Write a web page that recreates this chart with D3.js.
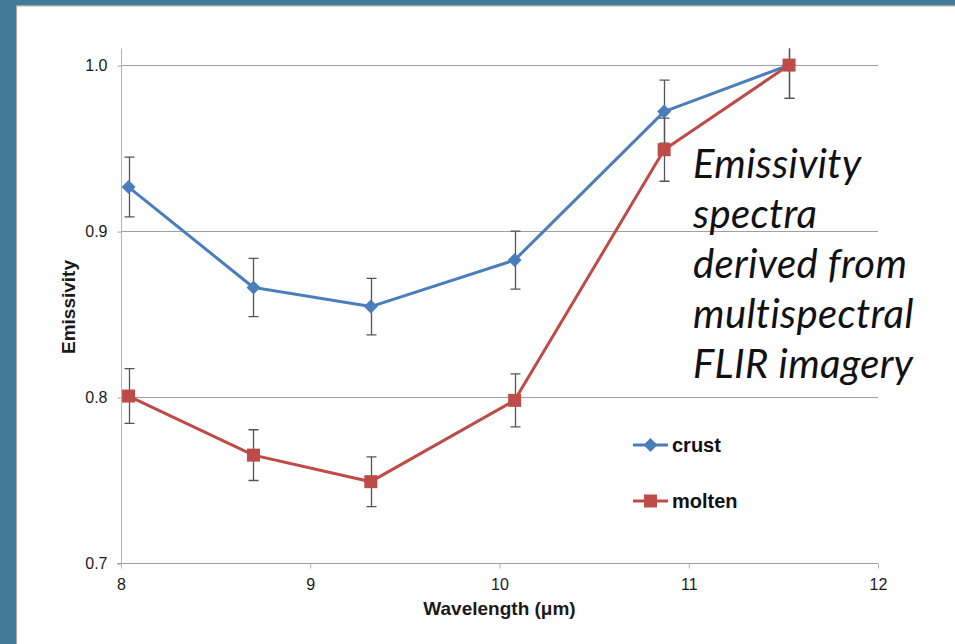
<!DOCTYPE html>
<html>
<head>
<meta charset="utf-8">
<script src="https://cdn.jsdelivr.net/npm/d3@7"></script>
<style>
body { margin: 0; background: #fff; }
svg { display: block; }
</style>
</head>
<body>
<svg class="main" width="955" height="644"></svg>
<script>
var wavelength = [8.04, 8.70, 9.32, 10.08, 10.87, 11.53],
    crust = [0.9265, 0.866, 0.8545, 0.8825, 0.972, 1.0],
    crustErr = [0.018, 0.0175, 0.017, 0.0175, 0.019, 0.02],
    molten = [0.8006, 0.765, 0.749, 0.798, 0.949, 1.0],
    moltenErr = [0.0165, 0.0153, 0.015, 0.016, 0.019, 0.02],
    xTicks = [8, 9, 10, 11, 12],
    yTicks = [0.7, 0.8, 0.9, 1.0],
    seriesNames = ["crust", "molten"],
    noteLines = ["Emissivity", "spectra", "derived from", "multispectral", "FLIR imagery"];

var svg = d3.select(".main");

var layout = {
    left: 121,
    right: 878,
    top: 48.5,
    bottom: 563
};

var sans = "Arial, 'Liberation Sans', sans-serif";

// slide frame
svg.append("rect").attr("width", 955).attr("height", 644).attr("fill", "#417b98");
svg.append("rect").attr("x", 16).attr("y", 5).attr("width", 939).attr("height", 639).attr("fill", "#a6a6a6");
svg.append("rect").attr("x", 17).attr("y", 6.5).attr("width", 938).attr("height", 638).attr("fill", "#fff");

var x = d3.scaleLinear().domain([8, 12]).range([layout.left, layout.right]);
var y = d3.scaleLinear().domain([0.7, 1.01]).range([layout.bottom, layout.top]);

var plot = svg.append("g");

// gridlines
plot.selectAll(".grid")
    .data(yTicks.slice(1))
    .enter()
    .append("line")
    .attr("x1", layout.left)
    .attr("x2", layout.right)
    .attr("y1", function(d) { return Math.round(y(d)) + 0.5; })
    .attr("y2", function(d) { return Math.round(y(d)) + 0.5; })
    .attr("stroke", "#a0a0a0")
    .attr("stroke-width", 1);

// y axis
var yAxis = d3.axisLeft(y).tickValues(yTicks).tickFormat(d3.format(".1f")).tickSize(4).tickPadding(10);
plot.append("g")
    .attr("transform", "translate(" + (layout.left + 0.5) + ",0)")
    .call(yAxis)
    .call(function(g) {
        g.select(".domain").attr("stroke", "#b4b4b4").attr("d", "M0," + layout.top + "V" + (layout.bottom + 0.5));
        g.selectAll(".tick line").attr("stroke", "#a0a0a0").attr("transform", "translate(0,0.5)");
        g.selectAll(".tick text").attr("font-family", sans).attr("font-size", 16).attr("fill", "#1a1a1a");
    });

// x axis
var xAxis = d3.axisBottom(x).tickValues(xTicks).tickFormat(d3.format("d")).tickSize(5).tickPadding(10);
plot.append("g")
    .attr("transform", "translate(0," + (Math.round(layout.bottom) + 0.5) + ")")
    .call(xAxis)
    .call(function(g) {
        g.select(".domain").attr("stroke", "#a0a0a0").attr("d", "M" + (layout.left - 4) + ",0H" + layout.right);
        g.selectAll(".tick line").attr("stroke", "#b4b4b4");
        g.selectAll(".tick text").attr("font-family", sans).attr("font-size", 16).attr("fill", "#1a1a1a");
    });

// axis titles
svg.append("text")
    .attr("x", (layout.left + layout.right) / 2)
    .attr("y", 615)
    .attr("text-anchor", "middle")
    .attr("font-family", sans)
    .attr("font-weight", "bold")
    .attr("font-size", 19)
    .attr("fill", "#1a1a1a")
    .text("Wavelength (μm)");

svg.append("text")
    .attr("transform", "translate(75,307) rotate(-90)")
    .attr("text-anchor", "middle")
    .attr("font-family", sans)
    .attr("font-weight", "bold")
    .attr("font-size", 19)
    .attr("fill", "#1a1a1a")
    .text("Emissivity");

var series = [
    { name: seriesNames[0], values: crust, err: crustErr, color: "#4a7ebb", marker: "diamond" },
    { name: seriesNames[1], values: molten, err: moltenErr, color: "#be4b48", marker: "square" }
];

svg.append("clipPath").attr("id", "plotClip")
    .append("rect")
    .attr("x", layout.left - 20)
    .attr("y", layout.top)
    .attr("width", layout.right - layout.left + 40)
    .attr("height", layout.bottom - layout.top);

var line = d3.line()
    .x(function(d) { return x(d.x); })
    .y(function(d) { return y(d.y); });

function marker(sel, type, color, cx, cy) {
    if (type === "diamond") {
        sel.append("path")
            .attr("d", "M" + cx + "," + (cy - 7) + "L" + (cx + 7) + "," + cy + "L" + cx + "," + (cy + 7) + "L" + (cx - 7) + "," + cy + "Z")
            .attr("fill", color);
    } else {
        sel.append("rect")
            .attr("x", cx - 6.5)
            .attr("y", cy - 6.5)
            .attr("width", 13)
            .attr("height", 13)
            .attr("fill", color);
    }
}

series.forEach(function(s) {
    var pts = wavelength.map(function(w, i) {
        return { x: w, y: s.values[i], e: s.err[i] };
    });

    var g = plot.append("g");

    // error bars
    var eb = g.append("g").attr("clip-path", "url(#plotClip)");
    pts.forEach(function(p) {
        var px = Math.round(x(p.x)) + 0.5,
            y0 = y(p.y - p.e),
            y1 = y(p.y + p.e);
        eb.append("path")
            .attr("d", "M" + px + "," + y0 + "V" + y1 +
                "M" + (px - 5) + "," + y0 + "H" + (px + 5) +
                "M" + (px - 5) + "," + y1 + "H" + (px + 5))
            .attr("stroke", "#555")
            .attr("stroke-width", 1.3)
            .attr("fill", "none");
    });

    g.append("path")
        .datum(pts)
        .attr("d", line)
        .attr("fill", "none")
        .attr("stroke", s.color)
        .attr("stroke-width", 3)
        .attr("stroke-linejoin", "round");

    pts.forEach(function(p) {
        marker(g, s.marker, s.color, x(p.x), y(p.y));
    });
});

// legend
var legend = svg.append("g");
series.forEach(function(s, i) {
    var ly = 445 + i * 56;
    legend.append("line")
        .attr("x1", 633).attr("x2", 668)
        .attr("y1", ly).attr("y2", ly)
        .attr("stroke", s.color)
        .attr("stroke-width", 3);
    marker(legend, s.marker, s.color, 650.5, ly);
    legend.append("text")
        .attr("x", 672)
        .attr("y", ly + 7)
        .attr("font-family", sans)
        .attr("font-weight", "bold")
        .attr("font-size", 20)
        .attr("fill", "#111")
        .text(s.name);
});

// annotation
var note = svg.append("text")
    .attr("font-family", "Lato, 'Open Sans', sans-serif")
    .attr("font-style", "italic")
    .attr("font-size", 40)
    .attr("letter-spacing", 0.4)
    .attr("fill", "#111");
noteLines.forEach(function(t, i) {
    note.append("tspan")
        .attr("x", 693)
        .attr("y", 178 + i * 50)
        .text(t);
});
</script>
</body>
</html>
